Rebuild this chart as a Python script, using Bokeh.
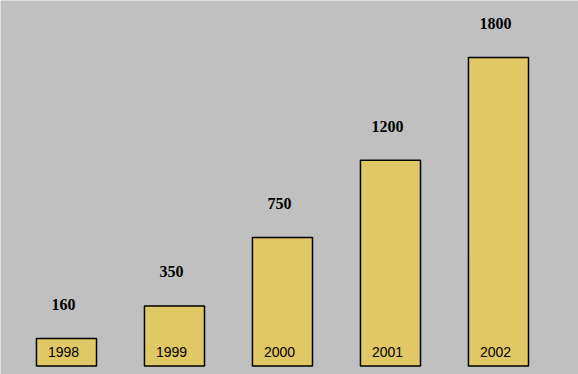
from bokeh.plotting import figure
from bokeh.models import ColumnDataSource, Range1d
from bokeh.core.properties import value
from bokeh.embed import file_html
from bokeh.resources import INLINE

years = ["1998", "1999", "2000", "2001", "2002"]
values = [160, 350, 750, 1200, 1800]
value_labels = [str(v) for v in values]

src = ColumnDataSource(dict(
    x=list(range(len(years))),
    top=values,
    year=years,
    vlabel=value_labels,
    zero=[0] * len(years),
))

p = figure(width=578, height=374, output_backend="svg", toolbar_location=None,
           x_range=Range1d(-0.611, 4.741), y_range=Range1d(-50, 2133),
           min_border=0, min_border_left=0, min_border_right=0,
           min_border_top=0, min_border_bottom=0)
p.axis.visible = False
p.grid.visible = False
p.outline_line_color = None
p.background_fill_color = "#C0C0C0"
p.border_fill_color = "#C0C0C0"

p.vbar(x="x", top="top", bottom=0, width=0.556, source=src,
       fill_color="#E0C864", line_color="black", line_width=1.5)

p.text(x="x", y="top", text="vlabel", source=src, x_offset=-3, y_offset=-34,
       text_align="center", text_baseline="middle",
       text_font=value("Liberation Serif"), text_font_style="bold",
       text_font_size="16px", text_color="black")

p.text(x="x", y="zero", text="year", source=src, x_offset=-3, y_offset=-14,
       text_align="center", text_baseline="middle",
       text_font=value("Liberation Sans"),
       text_font_size="14px", text_color="black")

open("out.html", "w").write(file_html(p, INLINE))
